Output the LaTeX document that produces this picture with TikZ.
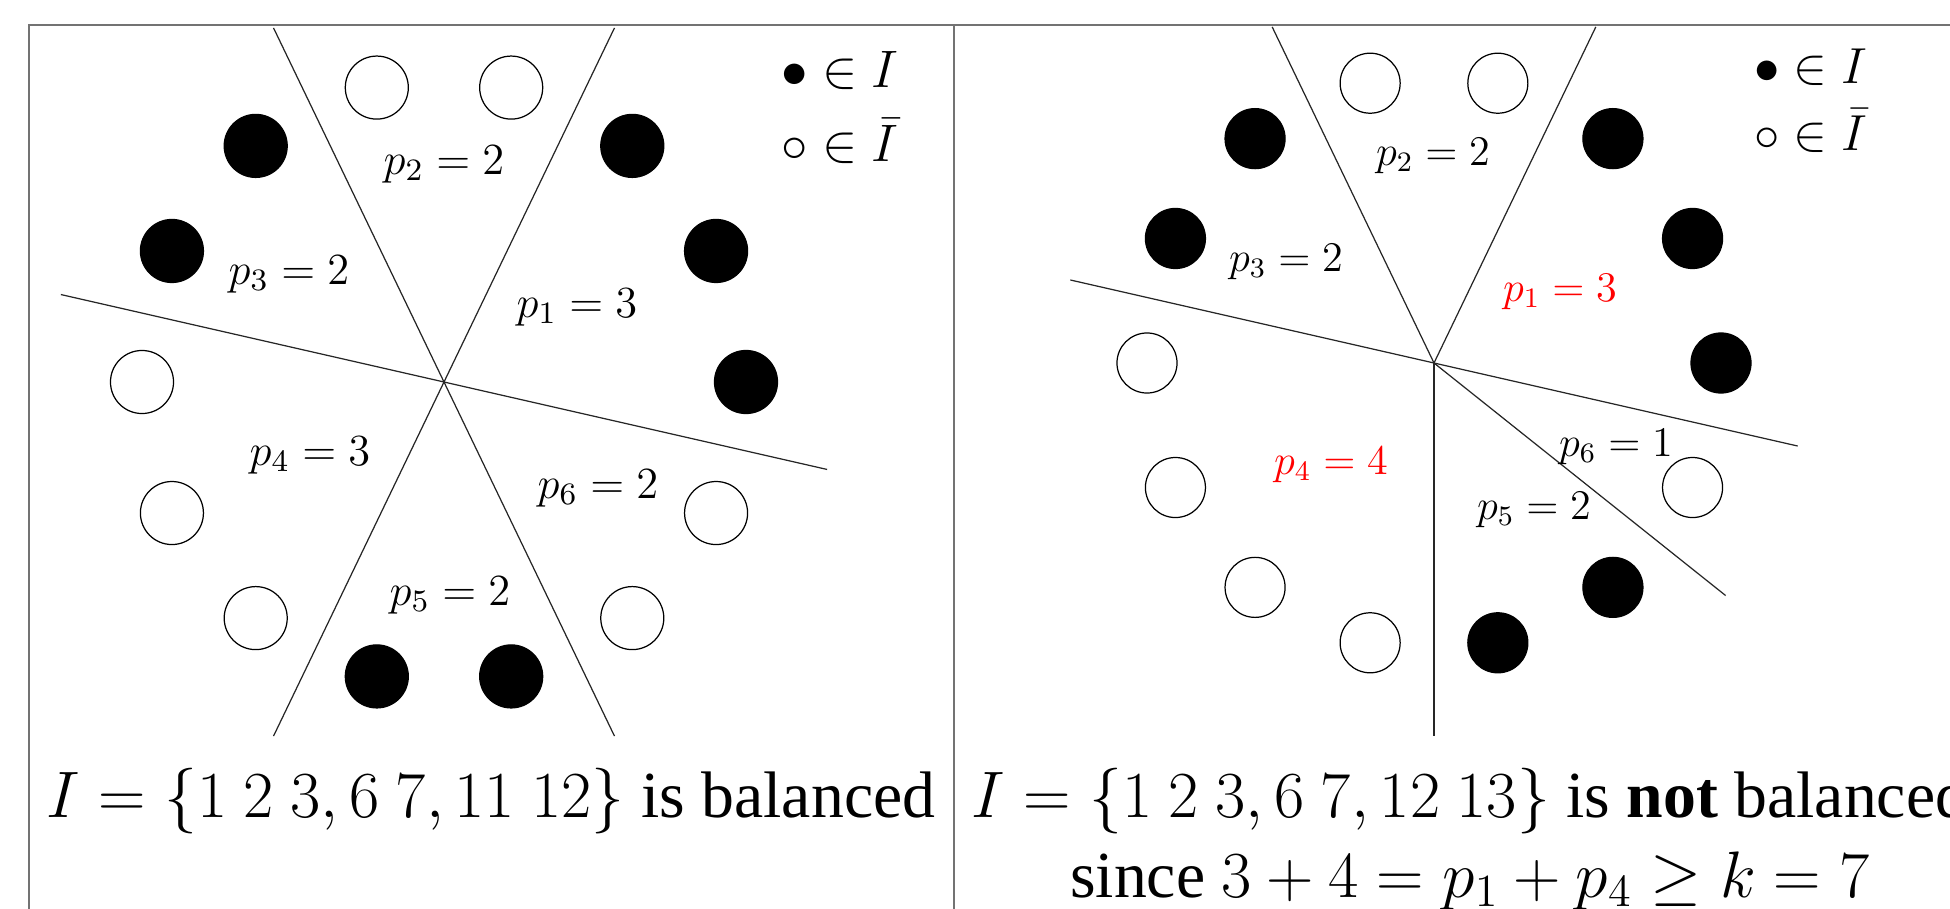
\documentclass[tikz,border=0pt]{standalone}
\usepackage{fix-cm}
\usepackage[no-math]{fontspec}
\setmainfont{Liberation Serif}
\usepackage{amsmath}
\usepackage{amssymb}
\usetikzlibrary{calc}

\tikzset{
  inI/.style={circle, draw=black, fill=black, line width=0.35pt, inner sep=0pt, minimum size=#1},
  outI/.style={circle, draw=black, fill=white, line width=0.35pt, inner sep=0pt, minimum size=#1},
  sepline/.style={line width=0.35pt, black!85},
  plabel/.style={font=\fontsize{#1}{#1}\selectfont},
  frameline/.style={line width=0.6pt, black!55},
  caption/.style={font=\fontsize{18.7}{22}\selectfont, anchor=base}
}

\begin{document}
\begin{tikzpicture}[x=0.01cm, y=0.01cm]
  \clip (0,0) rectangle (1950,908);
  % frame of the two panels
  \draw[frameline] (29,-20) -- (29,883) -- (1990,883);
  \draw[frameline] (954,-20) -- (954,883);

  % left panel: balanced
  \coordinate (cL) at (444,526);
  \draw[sepline] ([shift={(115.71:393)}]cL) -- ([shift={(-64.29:393)}]cL);
  \draw[sepline] ([shift={(64.29:393)}]cL) -- ([shift={(-115.71:393)}]cL);
  \draw[sepline] ([shift={(167.14:393)}]cL) -- ([shift={(-12.86:393)}]cL);
  \foreach \i in {0,1,2,5,6,10,11}
    \node[inI=6.3mm] (L\i) at ([shift={(\i*360/14:302)}]cL) {};
  \foreach \i in {3,4,7,8,9,12,13}
    \node[outI=6.3mm] (L\i) at ([shift={(\i*360/14:302)}]cL) {};
  \node[plabel=12.65] (lp1) at (577,601) {$p_1 = 3$};
  \node[plabel=12.65] (lp2) at (444,744) {$p_2 = 2$};
  \node[plabel=12.65] (lp3) at (289,634) {$p_3 = 2$};
  \node[plabel=12.65] (lp4) at (310,453) {$p_4 = 3$};
  \node[plabel=12.65] (lp5) at (450,313) {$p_5 = 2$};
  \node[plabel=12.65] (lp6) at (598,420) {$p_6 = 2$};
  \node[plabel=15] (legL1) at (840,837) {$\bullet \in I$};
  \node[plabel=15] (legL2) at (840,767) {$\circ \in \bar{I}$};
  \node[caption] (capL) at (491,91) {$I = \{1\ 2\ 3, 6\ 7, 11\ 12\}$ is balanced};

  % right panel: not balanced
  \coordinate (cR) at (1434,545);
  \draw[sepline] (cR) -- ([shift={(115.71:373)}]cR);
  \draw[sepline] (cR) -- ([shift={(64.29:373)}]cR);
  \draw[sepline] ([shift={(167.14:373)}]cR) -- ([shift={(-12.86:373)}]cR);
  \draw[sepline] (cR) -- ([shift={(270:373)}]cR);
  \draw[sepline] (cR) -- ([shift={(321.43:373)}]cR);
  \foreach \i in {0,1,2,5,6,11,12}
    \node[inI=6.0mm] (R\i) at ([shift={(\i*360/14:287)}]cR) {};
  \foreach \i in {3,4,7,8,9,10,13}
    \node[outI=6.0mm] (R\i) at ([shift={(\i*360/14:287)}]cR) {};
  \node[plabel=12, red] (rp1) at (1560,616) {$p_1 = 3$};
  \node[plabel=12] (rp2) at (1433,752) {$p_2 = 2$};
  \node[plabel=12] (rp3) at (1286,646) {$p_3 = 2$};
  \node[plabel=12, red] (rp4) at (1331,443) {$p_4 = 4$};
  \node[plabel=12] (rp5) at (1534,398) {$p_5 = 2$};
  \node[plabel=12] (rp6) at (1616,461) {$p_6 = 1$};
  \node[plabel=14.4] (legR1) at (1811,841) {$\bullet \in I$};
  \node[plabel=14.4] (legR2) at (1811,777) {$\circ \in \bar{I}$};
  \node[caption] (capR1) at (1470,91) {$I = \{1\ 2\ 3, 6\ 7, 12\ 13\}$ is \textbf{not} balanced};
  \node[caption] (capR2) at (1470,11) {since $3 + 4 = p_1 + p_4 \geq k = 7$};
\end{tikzpicture}
\end{document}
